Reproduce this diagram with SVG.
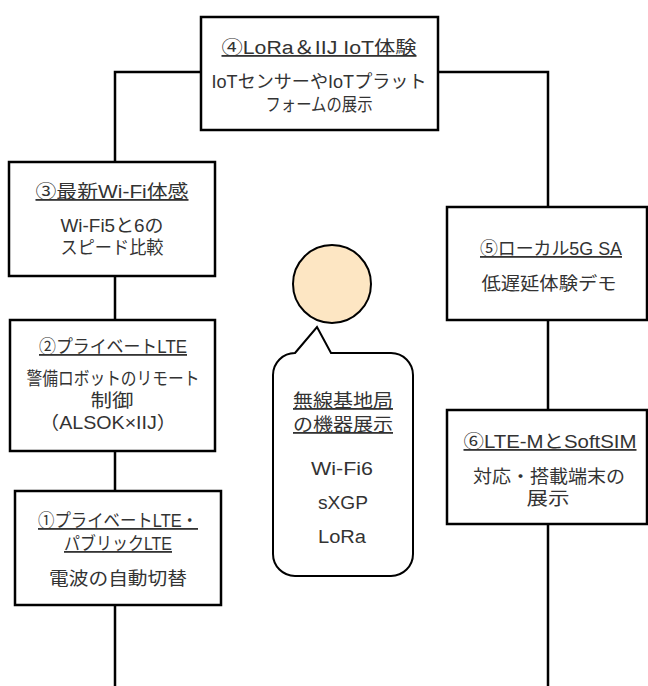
<svg xmlns="http://www.w3.org/2000/svg" width="648" height="686" viewBox="0 0 648 686">
<style>
.box{fill:#fff;stroke:#000;stroke-width:2.5}
.conn{fill:none;stroke:#000;stroke-width:2.5}
text{font-family:"Liberation Sans","Noto Sans CJK JP",sans-serif;font-size:18px;fill:#333;text-anchor:middle}
.t{text-decoration:underline}
</style>
<rect width="648" height="686" fill="#fff"/>
<g id="connectors">
<path class="conn" d="M201,72 H115 V686"/>
<path class="conn" d="M438,72 H548 V686"/>
</g>
<g id="n4">
<rect class="box" x="201" y="17" width="237" height="113"/>
<text class="t" x="319" y="54" textLength="195" lengthAdjust="spacingAndGlyphs">④LoRa＆IIJ IoT体験</text>
<text x="319" y="88" textLength="215" lengthAdjust="spacingAndGlyphs">IoTセンサーやIoTプラット</text>
<text x="319" y="111" textLength="107" lengthAdjust="spacingAndGlyphs">フォームの展示</text>
</g>
<g id="n3">
<rect class="box" x="9" y="162" width="206" height="114"/>
<text class="t" x="112" y="198" textLength="153" lengthAdjust="spacingAndGlyphs">③最新Wi-Fi体感</text>
<text x="112" y="232" textLength="103" lengthAdjust="spacingAndGlyphs">Wi-Fi5と6の</text>
<text x="112" y="254" textLength="103" lengthAdjust="spacingAndGlyphs">スピード比較</text>
</g>
<g id="n2">
<rect class="box" x="10" y="320" width="205" height="131"/>
<text class="t" x="113" y="353" textLength="148" lengthAdjust="spacingAndGlyphs">②プライベートLTE</text>
<text x="113" y="385" textLength="173" lengthAdjust="spacingAndGlyphs">警備ロボットのリモート</text>
<text x="112" y="407" textLength="43" lengthAdjust="spacingAndGlyphs">制御</text>
<text x="108" y="429" textLength="137" lengthAdjust="spacingAndGlyphs">（ALSOK×IIJ）</text>
</g>
<g id="n1">
<rect class="box" x="15" y="491" width="206" height="114"/>
<text class="t" x="118" y="527" textLength="160" lengthAdjust="spacingAndGlyphs">①プライベートLTE・</text>
<text class="t" x="118" y="550" textLength="108" lengthAdjust="spacingAndGlyphs">パブリックLTE</text>
<text x="118" y="585" textLength="138" lengthAdjust="spacingAndGlyphs">電波の自動切替</text>
</g>
<g id="n5">
<rect class="box" x="447" y="207" width="200" height="113"/>
<text class="t" x="551" y="255" textLength="142" lengthAdjust="spacingAndGlyphs">⑤ローカル5G SA</text>
<text x="549" y="290" textLength="135" lengthAdjust="spacingAndGlyphs">低遅延体験デモ</text>
</g>
<g id="n6">
<rect class="box" x="447" y="410" width="200" height="114"/>
<text class="t" x="550" y="448" textLength="173" lengthAdjust="spacingAndGlyphs">⑥LTE-MとSoftSIM</text>
<text x="549" y="483" textLength="152" lengthAdjust="spacingAndGlyphs">対応・搭載端末の</text>
<text x="548" y="505" textLength="43" lengthAdjust="spacingAndGlyphs">展示</text>
</g>
<g id="person">
<circle cx="332" cy="284" r="39" fill="#fde6c3" stroke="#000" stroke-width="2"/>
</g>
<g id="callout">
<path d="M295,353 L317,327 L331,353 L391,353 A22,22 0 0 1 413,375 L413,554 A22,22 0 0 1 391,576 L295,576 A22,22 0 0 1 273,554 L273,375 A22,22 0 0 1 295,353 Z" fill="#fff" stroke="#000" stroke-width="2"/>
<text class="t" x="343" y="407" textLength="100" lengthAdjust="spacingAndGlyphs">無線基地局</text>
<text class="t" x="343" y="431" textLength="100" lengthAdjust="spacingAndGlyphs">の機器展示</text>
<text x="342" y="475" textLength="62" lengthAdjust="spacingAndGlyphs">Wi-Fi6</text>
<text x="343" y="509" textLength="50" lengthAdjust="spacingAndGlyphs">sXGP</text>
<text x="342" y="543" textLength="48" lengthAdjust="spacingAndGlyphs">LoRa</text>
</g>
</svg>
